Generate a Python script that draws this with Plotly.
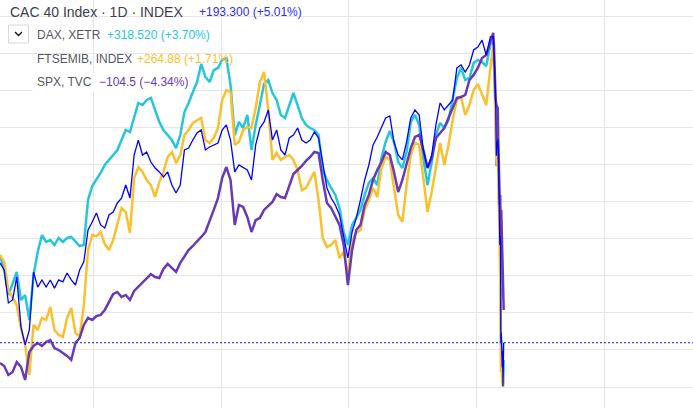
import pandas as pd
import plotly.graph_objects as go

W, H = 693, 408

# ---- data -------------------------------------------------------------
main_dates = pd.date_range("2016-04-08", periods=118, freq="12D")
crash_dates = pd.to_datetime([
    "2020-02-19", "2020-02-21", "2020-02-24", "2020-02-26", "2020-02-28",
    "2020-03-03", "2020-03-05", "2020-03-06", "2020-03-09", "2020-03-10",
    "2020-03-11", "2020-03-12", "2020-03-13", "2020-03-16", "2020-03-17",
    "2020-03-18", "2020-03-19", "2020-03-20"])
dates = main_dates.append(crash_dates)

# all series on the CAC 40 price scale (comparison overlay)
cac = [4587, 4539, 4317, 4337, 4492, 4155, 4034, 4135, 4526, 4424,
       4472, 4424, 4472, 4417, 4472, 4459, 4519, 4472, 4438, 4539,
       4594, 4809, 4863, 4924, 4843, 4822, 4910, 4930, 4991, 5024,
       5112, 5024, 5314, 5415, 5314, 5335, 5267, 5227, 5200, 5166,
       5200, 5112, 5058, 5112, 5348, 5361, 5415, 5463, 5483, 5348,
       5368, 5382, 5395, 5483, 5517, 5415, 5200, 5247, 5227, 5213,
       5146, 5382, 5496, 5537, 5618, 5415, 5483, 5348, 5314, 5429,
       5449, 5496, 5415, 5395, 5415, 5469, 5429, 5267, 5092, 5024,
       4977, 4910, 4775, 4620, 4795, 4890, 5011, 5146, 5247, 5382,
       5436, 5496, 5564, 5577, 5402, 5314, 5281, 5402, 5564, 5618,
       5584, 5348, 5227, 5314, 5517, 5665, 5618, 5651, 5685, 5901,
       5921, 5874, 5921, 6022, 6042, 6089, 5988, 6110,
       6111, 6029, 5792, 5688, 5309, 5418, 5366, 5139, 4708, 4772,
       4728, 4045, 4118, 3882, 3991, 3755, 3855, 4049]

dax = [4640, 4539, 4370, 4452, 4526, 4337, 4370, 4202, 4505, 4661,
       4775, 4728, 4741, 4708, 4755, 4728, 4755, 4762, 4728, 4701,
       4708, 5011, 5105, 5146, 5193, 5247, 5281, 5314, 5348, 5415,
       5483, 5469, 5570, 5665, 5651, 5685, 5699, 5618, 5537, 5483,
       5449, 5415, 5361, 5449, 5604, 5665, 5739, 5806, 5928, 5840,
       5806, 5887, 5901, 5955, 5968, 5786, 5449, 5537, 5496, 5584,
       5348, 5517, 5651, 5793, 5820, 5732, 5685, 5584, 5564, 5651,
       5732, 5651, 5564, 5517, 5496, 5483, 5449, 5213, 5146, 5092,
       5045, 4957, 4795, 4708, 4843, 4890, 4944, 5045, 5126, 5159,
       5112, 5294, 5402, 5476, 5402, 5267, 5227, 5335, 5537, 5584,
       5517, 5294, 5112, 5267, 5449, 5530, 5496, 5550, 5685, 5833,
       5901, 5820, 5833, 5934, 5955, 5941, 5914, 6062,
       6076, 5982, 5746, 5631, 5240, 5341, 5260, 5085, 4681, 4613,
       4600, 4034, 4067, 3852, 3939, 3757, 3791, 3933]

ftsemib = [4640, 4593, 4404, 4351, 4303, 4148, 4034, 3832, 4169, 4135,
           4216, 4202, 4290, 4135, 4101, 4088, 4216, 4283, 4115, 4088,
           4303, 4674, 4775, 4768, 4795, 4714, 4674, 4741, 4843, 4957,
           4930, 4789, 5159, 5233, 5200, 5146, 5112, 5031, 5132, 5200,
           5301, 5335, 5260, 5314, 5449, 5483, 5530, 5550, 5564, 5415,
           5395, 5429, 5496, 5685, 5752, 5739, 5382, 5402, 5483, 5503,
           5496, 5631, 5806, 5874, 5618, 5281, 5328, 5281, 5301, 5314,
           5281, 5213, 5078, 5092, 5146, 5200, 5011, 4755, 4694, 4708,
           4741, 4620, 4661, 4506, 4741, 4789, 4809, 4944, 5011, 5092,
           5031, 5227, 5301, 5281, 5092, 4910, 4863, 5112, 5314, 5395,
           5382, 5146, 4930, 5065, 5227, 5395, 5247, 5382, 5550, 5685,
           5705, 5584, 5651, 5752, 5793, 5719, 5651, 5901,
           6056, 5955, 5584, 5483, 5281, 5247, 5180, 4977, 4593, 4438,
           4391, 3852, 3933, 3778, 3832, 3751, 3784, 3825]

spx = [3913, 3892, 3832, 3852, 3919, 3886, 3798, 3987, 4027, 4047,
       4027, 4054, 4067, 4013, 4000, 3980, 3960, 3933, 4047, 4081,
       4169, 4216, 4202, 4229, 4236, 4270, 4324, 4377, 4391, 4357,
       4371, 4337, 4398, 4425, 4452, 4479, 4512, 4492, 4485, 4546,
       4580, 4553, 4526, 4587, 4627, 4674, 4701, 4735, 4762, 4795,
       4863, 4944, 5024, 5159, 5233, 5146, 4843, 4977, 4964, 4897,
       4795, 4876, 4890, 4944, 4971, 4998, 5051, 5031, 5024, 5112,
       5186, 5213, 5240, 5274, 5301, 5335, 5328, 5146, 4991, 4957,
       4897, 4843, 4708, 4438, 4674, 4809, 4843, 4977, 5045, 5146,
       5213, 5267, 5335, 5314, 5200, 5065, 5146, 5247, 5361, 5436,
       5449, 5348, 5227, 5294, 5429, 5463, 5496, 5564, 5631, 5699,
       5705, 5719, 5820, 5854, 5901, 5968, 5988, 6076,
       6137, 6056, 5719, 5685, 5651, 5631, 5348, 5213, 4977, 5045,
       4910, 4741, 4944, 4593, 4674, 4404, 4459, 4270]

for s in (cac, dax, ftsemib, spx):
    assert len(s) == len(dates), len(s)

price_grid = [3750, 4000, 4250, 4500, 4750, 5000, 5250, 5500, 5750, 6000, 6250]
year_grid = ["2017-01-02", "2018-01-02", "2019-01-02", "2020-01-02", "2021-01-04"]

legend_rows = [
    ("DAX, XETR", "+318.520 (+3.70%)"),
    ("FTSEMIB, INDEX", "+264.88 (+1.71%)"),
    ("SPX, TVC", "\u2212104.5 (\u22124.34%)"),
]

# ---- style ------------------------------------------------------------
C_CAC, C_DAX, C_FTSE, C_SPX = "#0000ff", "#26c6da", "#fbc02d", "#673ab7"
GRID = "#e6e6e6"
FONT = "Liberation Sans, Arial, sans-serif"


def px(x):
    return x / W


def py(y):
    return 1 - y / H


fig = go.Figure()
for vals, col, w in ((dax, C_DAX, 2.5), (ftsemib, C_FTSE, 2.5),
                     (spx, C_SPX, 2.5), (cac, C_CAC, 1.3)):
    fig.add_trace(go.Scatter(x=dates, y=vals, mode="lines",
                             line=dict(color=col, width=w), hoverinfo="skip"))

fig.add_hline(y=cac[-1], line=dict(color="#1a1acc", width=1, dash="2px,2px"))

fig.update_layout(
    width=W, height=H, autosize=False,
    margin=dict(l=0, r=0, t=0, b=0),
    paper_bgcolor="white", plot_bgcolor="white",
    showlegend=False,
    xaxis=dict(type="date", range=["2016-04-08", "2021-09-13"],
               tickvals=year_grid, showticklabels=False, ticks="",
               showgrid=True, gridcolor=GRID, gridwidth=1,
               zeroline=False, showline=False),
    yaxis=dict(range=[3609, 6359], tickvals=price_grid,
               showticklabels=False, ticks="",
               showgrid=True, gridcolor=GRID, gridwidth=1,
               zeroline=False, showline=False),
)

shapes = [
    # white backing behind header row and last legend row
    dict(type="rect", xref="paper", yref="paper", x0=px(0), x1=px(310),
         y0=py(22), y1=py(2), fillcolor="white", line=dict(width=0), layer="above"),
    dict(type="rect", xref="paper", yref="paper", x0=px(32), x1=px(192),
         y0=py(92), y1=py(73), fillcolor="white", line=dict(width=0), layer="above"),
    # collapse button
    dict(type="rect", xref="paper", yref="paper", x0=px(8.5), x1=px(28.5),
         y0=py(43), y1=py(25), fillcolor="white",
         line=dict(color="#d6d8de", width=1), layer="above"),
    dict(type="path", xref="paper", yref="paper",
         path=f"M {px(15)} {py(32)} L {px(18.5)} {py(35.5)} L {px(22)} {py(32)}",
         line=dict(color="#131722", width=1.4), layer="above"),
]
fig.update_layout(shapes=shapes)

ann = [
    dict(text="CAC 40 Index \u00b7 1D \u00b7 INDEX", x=px(9), y=py(11.5),
         font=dict(size=14, color="#3e414b", family=FONT)),
    dict(text="+193.300 (+5.01%)", x=px(198), y=py(12),
         font=dict(size=12, color="#2f2fe6", family=FONT)),
]
row_y = [34.5, 59, 82.5]
val_x = [106, 136, 98]
val_c = [C_DAX, C_FTSE, C_SPX]
for (lab, val), yy, vx, vc in zip(legend_rows, row_y, val_x, val_c):
    ann.append(dict(text=lab, x=px(36), y=py(yy),
                    font=dict(size=12, color="#555861", family=FONT)))
    ann.append(dict(text=val, x=px(vx), y=py(yy),
                    font=dict(size=12, color=vc, family=FONT)))
for a in ann:
    a.update(xref="paper", yref="paper", xanchor="left", yanchor="middle",
             showarrow=False, borderpad=0)
fig.update_layout(annotations=ann)

fig.write_html("out.html", config={"displayModeBar": False})
